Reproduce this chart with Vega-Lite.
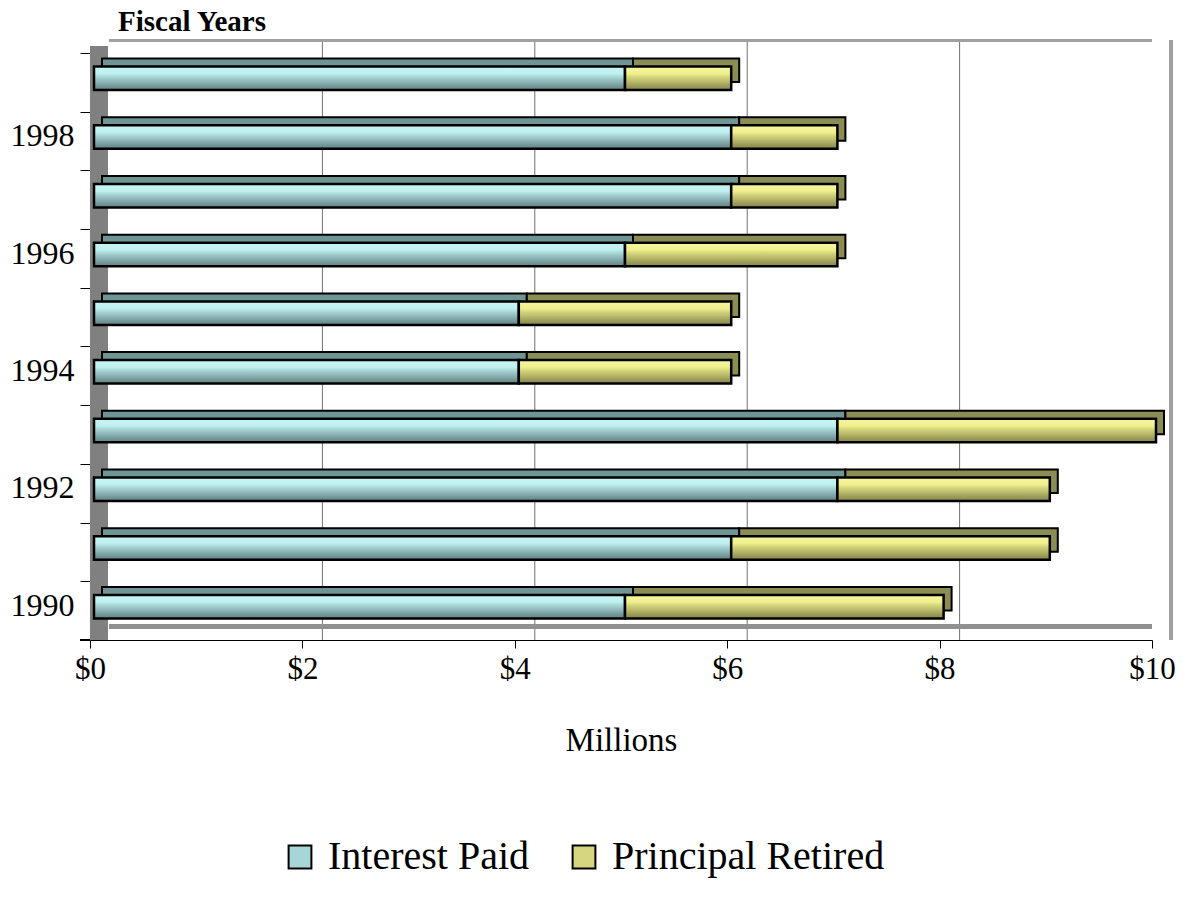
{
  "$schema": "https://vega.github.io/schema/vega-lite/v6.json",
  "width": 1062,
  "height": 587,
  "autosize": "none",
  "padding": {"left": 90, "top": 53, "right": 33, "bottom": 273},
  "background": "white",
  "title": {"text": "Fiscal Years", "anchor": "start", "frame": "group", "font": "Liberation Serif", "fontSize": 29, "fontWeight": "bold", "color": "black", "dx": 28, "offset": 0},
  "config": {
    "view": {"stroke": null},
    "axis": {"zindex": 1, "labelFont": "Liberation Serif", "titleFont": "Liberation Serif", "labelColor": "black", "titleColor": "black", "domainColor": "black", "tickColor": "black", "grid": false},
    "legend": {"labelFont": "Liberation Serif", "labelFontSize": 40, "labelColor": "black", "labelLimit": 500, "symbolType": "square", "symbolSize": 520, "symbolStrokeColor": "black", "symbolStrokeWidth": 2, "symbolOpacity": 1}
  },
  "datasets": {
    "debt": [
      {"year": "1990", "series": "Interest Paid", "value": 5},
      {"year": "1991", "series": "Interest Paid", "value": 6},
      {"year": "1992", "series": "Interest Paid", "value": 7},
      {"year": "1993", "series": "Interest Paid", "value": 7},
      {"year": "1994", "series": "Interest Paid", "value": 4},
      {"year": "1995", "series": "Interest Paid", "value": 4},
      {"year": "1996", "series": "Interest Paid", "value": 5},
      {"year": "1997", "series": "Interest Paid", "value": 6},
      {"year": "1998", "series": "Interest Paid", "value": 6},
      {"year": "1999", "series": "Interest Paid", "value": 5},
      {"year": "1990", "series": "Principal Retired", "value": 3},
      {"year": "1991", "series": "Principal Retired", "value": 3},
      {"year": "1992", "series": "Principal Retired", "value": 2},
      {"year": "1993", "series": "Principal Retired", "value": 3},
      {"year": "1994", "series": "Principal Retired", "value": 2},
      {"year": "1995", "series": "Principal Retired", "value": 2},
      {"year": "1996", "series": "Principal Retired", "value": 2},
      {"year": "1997", "series": "Principal Retired", "value": 1},
      {"year": "1998", "series": "Principal Retired", "value": 1},
      {"year": "1999", "series": "Principal Retired", "value": 1}
    ],
    "grid": [{"v": 2}, {"v": 4}, {"v": 6}, {"v": 8}]
  },
  "data": {"name": "debt"},
  "encoding": {
    "y": {"field": "year", "type": "ordinal",
      "scale": {"domain": ["1999","1998","1997","1996","1995","1994","1993","1992","1991","1990"], "paddingInner": 0.6, "paddingOuter": 0.3},
      "axis": {"title": null, "labelFontSize": 32, "tickSize": 10, "tickOffset": -29.35, "labelPadding": 6, "labelOffset": 24,
        "labelExpr": "toNumber(datum.value) % 2 == 0 ? datum.value : ''"}}
  },
  "layer": [
    {
      "mark": {"type": "rule", "color": "#808080", "strokeWidth": 18, "xOffset": 9, "yOffset": -7},
      "encoding": {"x": {"datum": 0, "type": "quantitative"}, "y": null}
    },
    {
      "data": {"name": "grid"},
      "mark": {"type": "rule", "color": "#707070", "strokeWidth": 1, "xOffset": 20, "yOffset": -13},
      "encoding": {"x": {"field": "v", "type": "quantitative"}, "y": null}
    },
    {
      "mark": {"type": "rule", "color": "#a0a0a0", "strokeWidth": 3, "xOffset": 19, "yOffset": -13},
      "encoding": {"x": {"datum": 10, "type": "quantitative"}, "y": null}
    },
    {
      "mark": {"type": "rule", "color": "#a0a0a0", "strokeWidth": 2.5, "xOffset": 19, "yOffset": -30},
      "encoding": {"x": {"datum": 0, "type": "quantitative"}, "x2": {"datum": 10}, "y": {"datum": "1999", "type": "ordinal", "bandPosition": 0}}
    },
    {
      "mark": {"type": "rule", "color": "#909090", "strokeWidth": 4, "xOffset": 19, "yOffset": 4},
      "encoding": {"x": {"datum": 0, "type": "quantitative"}, "x2": {"datum": 10}, "y": {"datum": "1990", "type": "ordinal", "bandPosition": 1}}
    },
    {
      "mark": {"type": "rule", "color": "black", "strokeWidth": 1, "yOffset": 17.6},
      "encoding": {"x": {"datum": -0.094, "type": "quantitative"}, "x2": {"datum": 0}, "y": {"datum": "1990", "type": "ordinal", "bandPosition": 1}}
    },
    {
      "mark": {"type": "bar", "stroke": "black", "strokeWidth": 2, "xOffset": 12, "yOffset": -12},
      "encoding": {
        "x": {"field": "value", "type": "quantitative", "stack": "zero", "scale": {"domain": [0, 10], "nice": false},
          "axis": {"values": [0, 2, 4, 6, 8, 10], "labelExpr": "'$' + datum.value", "labelFlush": false, "labelFontSize": 31, "tickSize": 8, "labelPadding": 6, "title": "Millions", "titleFontSize": 33, "titleFontWeight": "normal", "titlePadding": 40}},
        "detail": {"field": "series"},
        "order": {"field": "series", "sort": "ascending"},
        "fill": {"condition": {"test": "datum.series === 'Interest Paid'", "value": "#6f9595"}, "value": "#8c8c55"}
      }
    },
    {
      "mark": {"type": "bar", "xOffset": 4, "yOffset": -4},
      "encoding": {
        "x": {"field": "value", "type": "quantitative", "stack": "zero"},
        "order": {"field": "series", "sort": "ascending"},
        "fill": {"field": "series", "type": "nominal",
          "scale": {"domain": ["Interest Paid", "Principal Retired"], "range": ["#a6d6d6", "#d6d680"]},
          "legend": {"title": null, "orient": "none", "direction": "horizontal", "legendX": 190, "legendY": 784, "columnPadding": 34, "labelOffset": 8}}
      }
    },
    {
      "mark": {"type": "bar", "stroke": "black", "strokeWidth": 2.5, "xOffset": 4, "yOffset": -4},
      "encoding": {
        "x": {"field": "value", "type": "quantitative", "stack": "zero"},
        "detail": {"field": "series"},
        "order": {"field": "series", "sort": "ascending"},
        "fill": {
          "condition": {"test": "datum.series === 'Interest Paid'", "value": {"gradient": "linear", "x1": 0, "y1": 0, "x2": 0, "y2": 1,
            "stops": [{"offset": 0, "color": "#c4f4f4"}, {"offset": 0.3, "color": "#c0f0f0"}, {"offset": 0.45, "color": "#a8d4d4"}, {"offset": 0.62, "color": "#92baba"}, {"offset": 0.8, "color": "#789e9e"}, {"offset": 1, "color": "#5f8080"}]}},
          "value": {"gradient": "linear", "x1": 0, "y1": 0, "x2": 0, "y2": 1,
            "stops": [{"offset": 0, "color": "#f6f6a4"}, {"offset": 0.3, "color": "#f0f08c"}, {"offset": 0.45, "color": "#d4d47c"}, {"offset": 0.62, "color": "#bcbc6c"}, {"offset": 0.8, "color": "#a0a05c"}, {"offset": 1, "color": "#84844c"}]}
        }
      }
    }
  ]
}
